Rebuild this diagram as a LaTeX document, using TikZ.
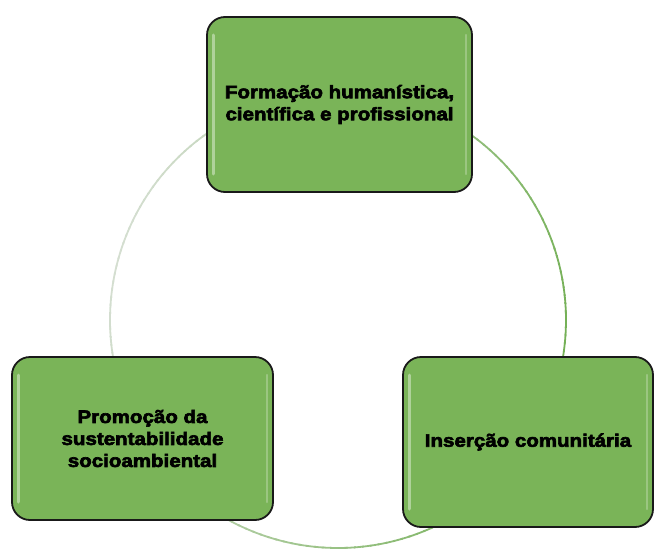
\documentclass[tikz,border=0pt]{standalone}
\usepackage{fontspec}
\setmainfont{Liberation Sans}[FakeStretch=1.14, BoldFeatures={FakeBold=3.5}]
\usepackage{tikz}
\usetikzlibrary{positioning}
\definecolor{boxgreen}{RGB}{122,180,88}
\definecolor{ringgreen}{RGB}{116,176,86}
\definecolor{ringgray}{RGB}{212,222,208}

\begin{document}
\begin{tikzpicture}[x=1pt,y=1pt,
    area/.style={draw=black!90, line width=1.8pt, fill=boxgreen, rounded corners=18pt,
        align=center, inner sep=4pt, font=\bfseries\fontsize{18}{22}\selectfont,
        path picture={
            \draw[white, opacity=.4, line width=3pt, line cap=round]
                ([shift={(6pt,-18pt)}]path picture bounding box.north west) --
                ([shift={(6pt,18pt)}]path picture bounding box.south west);
            \draw[white, opacity=.25, line width=2.5pt, line cap=round]
                ([shift={(-6pt,-18pt)}]path picture bounding box.north east) --
                ([shift={(-6pt,18pt)}]path picture bounding box.south east);
        }}]
    \useasboundingbox (0,0) rectangle (655,550);

    % ring behind the boxes
    \coordinate (center) at (338,230);
    \foreach \a in {0,2,...,358} {
        \pgfmathsetmacro\mix{50+50*cos(\a-345)}
        \draw[ringgreen!\mix!ringgray, line width=1.8pt]
            (center) ++(\a:228) arc[start angle=\a, end angle=\a+2.5, radius=228];
    }

    \node[area, minimum width=265pt, minimum height=175pt] (formacao) at (339.5,445.5)
        {Formação humanística,\\científica e profissional};
    \node[area, minimum width=261pt, minimum height=163pt] (promocao) at (142.5,111.5)
        {Promoção da\\sustentabilidade\\socioambiental};
    \node[area, minimum width=250pt, minimum height=170pt] (insercao) at (528,108)
        {Inserção comunitária};
\end{tikzpicture}
\end{document}
